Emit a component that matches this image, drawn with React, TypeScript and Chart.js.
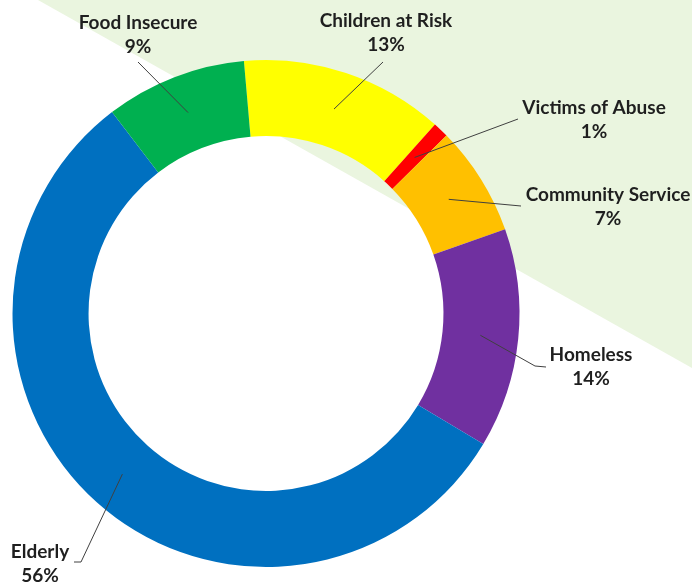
import React, { useEffect, useRef } from "react";
import { Chart, registerables } from "chart.js";

Chart.register(...registerables);

const categories = ["Children at Risk", "Victims of Abuse", "Community Service", "Homeless", "Elderly", "Food Insecure"];
const shares = [13, 1, 7, 14, 56, 9];
const shareLabels = ["13%", "1%", "7%", "14%", "56%", "9%"];
const sliceColors = ["#FFFF00", "#FF0000", "#FFC000", "#7030A0", "#0070C0", "#00B050"];

// Annotation layout (label text centre, leader line outer end, optional elbow)
const labelLayout = [
  { x: 386, y: 21, end: [383, 62] },
  { x: 594, y: 108, end: [518, 119] },
  { x: 608, y: 195, end: [521, 206] },
  { x: 591, y: 355, end: [546, 367], elbow: [535, 366] },
  { x: 40, y: 552, end: [74, 562], elbow: [81, 562] },
  { x: 138, y: 23, end: [138, 62] },
];

const backgroundPlugin = {
  id: "bgTriangle",
  beforeDraw(chart: any) {
    const { ctx, width, height } = chart;
    ctx.save();
    ctx.fillStyle = "#FFFFFF";
    ctx.fillRect(0, 0, width, height);
    ctx.fillStyle = "#EAF5DF";
    ctx.beginPath();
    ctx.moveTo(38, 0);
    ctx.lineTo(width, 0);
    ctx.lineTo(width, 368);
    ctx.closePath();
    ctx.fill();
    ctx.restore();
  },
};

const labelPlugin = {
  id: "leaderLabels",
  afterDraw(chart: any) {
    const { ctx } = chart;
    const meta = chart.getDatasetMeta(0);
    ctx.save();
    meta.data.forEach((arc: any, i: number) => {
      const lay = labelLayout[i];
      const p = arc.getCenterPoint();
      ctx.strokeStyle = "#404040";
      ctx.lineWidth = 1;
      ctx.beginPath();
      ctx.moveTo(p.x, p.y);
      if (lay.elbow) ctx.lineTo(lay.elbow[0], lay.elbow[1]);
      ctx.lineTo(lay.end[0], lay.end[1]);
      ctx.stroke();
      ctx.fillStyle = "#1F1F1F";
      ctx.font = "bold 19px Lato";
      ctx.textAlign = "center";
      ctx.textBaseline = "middle";
      ctx.fillText(categories[i], lay.x, lay.y);
      ctx.fillText(shareLabels[i], lay.x, lay.y + 24);
    });
    ctx.restore();
  },
};

export default function App() {
  const ref = useRef<HTMLCanvasElement | null>(null);
  useEffect(() => {
    document.body.style.margin = "0";
    const chart = new Chart(ref.current as HTMLCanvasElement, {
      type: "doughnut",
      data: {
        labels: categories,
        datasets: [
          {
            data: shares,
            backgroundColor: sliceColors,
            borderWidth: 0,
          },
        ],
      },
      options: {
        animation: false,
        responsive: false,
        rotation: -5,
        cutout: "70%",
        layout: { padding: { left: 12, top: 60, right: 172, bottom: 17 } },
        plugins: {
          legend: { display: false },
          tooltip: { enabled: false },
        },
      },
      plugins: [backgroundPlugin, labelPlugin],
    });
    return () => chart.destroy();
  }, []);
  return (
    <div style={{ width: 692, height: 584 }}>
      <canvas ref={ref} width={692} height={584} style={{ display: "block" }} />
    </div>
  );
}
